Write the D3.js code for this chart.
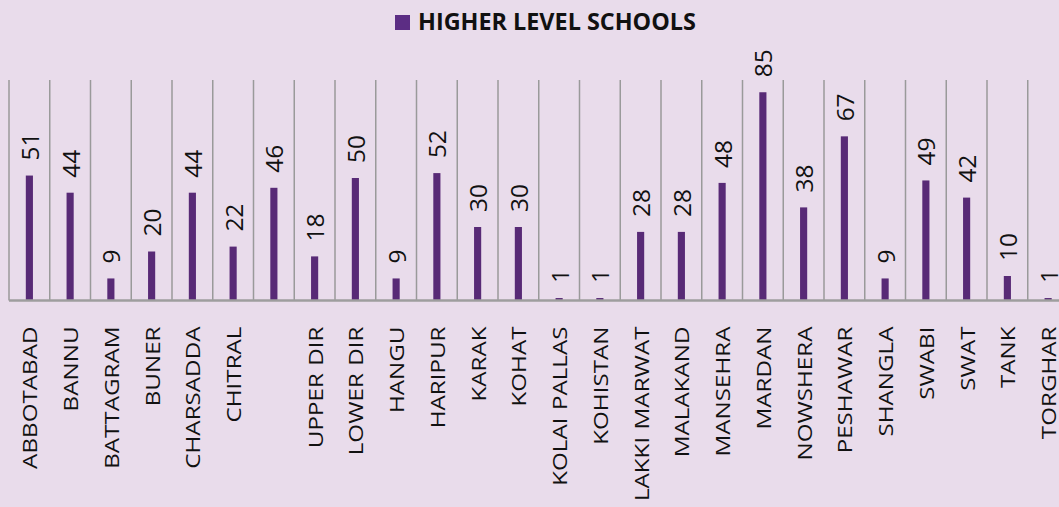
<!DOCTYPE html>
<html lang="en">
<head>
  <meta charset="UTF-8">
  <title>Higher level schools</title>
  <style>
    body { margin: 0; background: #e9dceb; }
    svg { display: block; font-family: "Open Sans", sans-serif; }
  </style>
</head>
<body>
  <svg width="1059" height="507"></svg>
  <script src="https://d3js.org/d3.v7.min.js"></script>
  <script>
    var districts = ["ABBOTABAD","BANNU","BATTAGRAM","BUNER","CHARSADDA","CHITRAL","","UPPER DIR","LOWER DIR","HANGU",
      "HARIPUR","KARAK","KOHAT","KOLAI PALLAS","KOHISTAN","LAKKI MARWAT","MALAKAND","MANSEHRA","MARDAN","NOWSHERA",
      "PESHAWAR","SHANGLA","SWABI","SWAT","TANK","TORGHAR"];
    var schools = [51,44,9,20,44,22,46,18,50,9,52,30,30,1,1,28,28,48,85,38,67,9,49,42,10,1];
    var seriesName = "HIGHER LEVEL SCHOOLS";
    var yMax = 90;

    var svg = d3.select("svg"),
        margin = {top: 80, left: 9, bottom: 206.5},
        step = 40.75,
        height = +svg.attr("height") - margin.top - margin.bottom;

    var idx = d3.range(districts.length);

    var x = d3.scaleBand().domain(idx).range([0, step * idx.length]).padding(0),
        y = d3.scaleLinear().domain([0, yMax]).range([height, 0]);

    var barW = x.bandwidth() * 0.175;

    var g = svg.append("g").attr("transform", "translate(" + margin.left + "," + margin.top + ")");

    // vertical category gridlines
    g.selectAll(".grid")
      .data(idx.concat([idx.length]))
      .enter().append("line")
        .attr("x1", d => d * x.step())
        .attr("x2", d => d * x.step())
        .attr("y1", y(yMax))
        .attr("y2", y(0))
        .attr("stroke", "#9a9a9a")
        .attr("stroke-width", 1.5);

    g.selectAll(".bar")
      .data(idx)
      .enter().append("rect")
        .attr("x", i => x(i) + (x.bandwidth() - barW) / 2)
        .attr("y", i => y(schools[i]))
        .attr("width", barW)
        .attr("height", i => y(0) - y(schools[i]))
        .attr("fill", "#582a76");

    // axis line
    g.append("line")
      .attr("x1", 0).attr("x2", x.range()[1])
      .attr("y1", y(0)).attr("y2", y(0))
      .attr("stroke", "#9e9e9e")
      .attr("stroke-width", 2.5);

    // value labels
    g.selectAll(".val")
      .data(idx)
      .enter().append("text")
        .attr("transform", i => "translate(" + (x(i) + x.bandwidth() / 2 + 1) + "," + (y(schools[i]) - 15) + ") rotate(-90) scale(1.04,1)")
        .attr("dy", "0.36em")
        .attr("font-size", 23.5)
        .attr("fill", "#111")
        .text(i => schools[i]);

    // category labels (the source font runs wider, hence the stretch)
    g.selectAll(".cat")
      .data(idx)
      .enter().append("text")
        .attr("transform", i => "translate(" + (x(i) + x.bandwidth() / 2 + 0.5) + "," + (y(0) + 26) + ") rotate(-90) scale(1.18,1)")
        .attr("text-anchor", "end")
        .attr("dy", "0.36em")
        .attr("font-size", 20.5)
        .attr("word-spacing", 1)
        .attr("fill", "#111")
        .text(i => districts[i]);

    // legend / title
    var leg = svg.append("g").attr("transform", "translate(395,15)");
    leg.append("rect").attr("width", 15).attr("height", 15).attr("fill", "#5c2d84");
    leg.append("text")
      .attr("transform", "translate(23,14.5) scale(1.04,1)")
      .attr("font-size", 22.5)
      .attr("font-weight", "bold")
      .attr("fill", "#111")
      .text(seriesName);
  </script>
</body>
</html>
